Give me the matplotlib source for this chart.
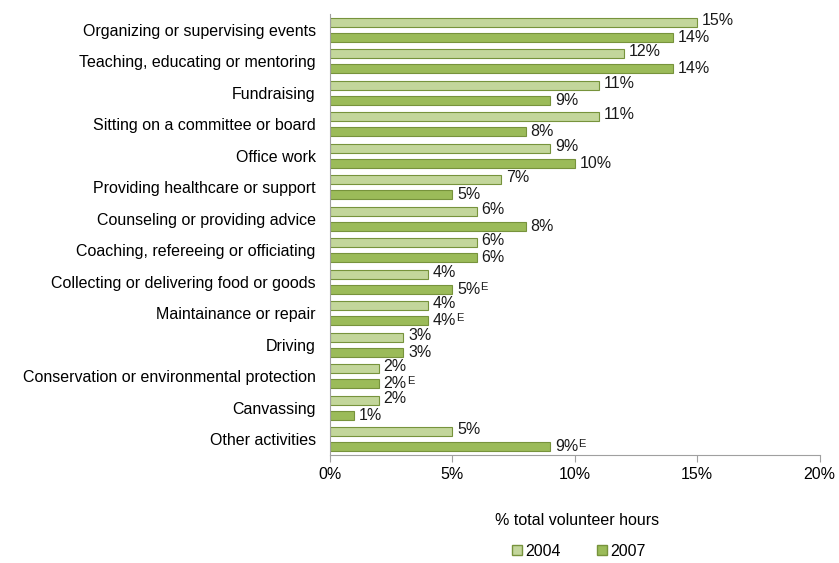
import numpy as np
import matplotlib
matplotlib.use('Agg')
import matplotlib.pyplot as plt
from matplotlib.patches import Patch

plt.rcParams['font.family'] = ['Liberation Sans', 'DejaVu Sans']

categories = ['Organizing or supervising events', 'Teaching, educating or mentoring',
              'Fundraising', 'Sitting on a committee or board', 'Office work',
              'Providing healthcare or support', 'Counseling or providing advice',
              'Coaching, refereeing or officiating', 'Collecting or delivering food or goods',
              'Maintainance or repair', 'Driving', 'Conservation or environmental protection',
              'Canvassing', 'Other activities']
vals_2004 = [15, 12, 11, 11, 9, 7, 6, 6, 4, 4, 3, 2, 2, 5]
vals_2007 = [14, 14, 9, 8, 10, 5, 8, 6, 5, 4, 3, 2, 1, 9]
flag_2007 = ['', '', '', '', '', '', '', '', 'E', 'E', '', 'E', '', 'E']

light = '#C3D69B'
dark = '#9BBB59'
edge = '#77933C'
fs = 11.5

fig = plt.figure(figsize=(8.39, 5.63), dpi=100)
ax = fig.add_axes([0.393, 0.192, 0.584, 0.783])

y = np.arange(len(categories))
h = 0.29
off = 0.24
ax.barh(y - off, vals_2004, height=h, color=light, edgecolor=edge, linewidth=0.8)
ax.barh(y + off, vals_2007, height=h, color=dark, edgecolor=edge, linewidth=0.8)

flag_texts = []
for i in range(len(categories)):
    ax.text(vals_2004[i] + 0.2, y[i] - off - 0.06, '%d%%' % vals_2004[i],
            va='center', ha='left', fontsize=fs, color='#1a1a1a')
    t = ax.text(vals_2007[i] + 0.2, y[i] + off, '%d%%' % vals_2007[i],
                va='center', ha='left', fontsize=fs, color='#1a1a1a')
    if flag_2007[i]:
        flag_texts.append((t, flag_2007[i]))

ax.set_ylim(len(categories) - 0.5, -0.5)
ax.set_xlim(0, 20)
ax.set_xticks([0, 5, 10, 15, 20])
ax.set_xticklabels(['0%', '5%', '10%', '15%', '20%'], fontsize=fs)
ax.set_yticks(y)
ax.set_yticklabels(categories, fontsize=fs)
ax.tick_params(axis='y', length=0, pad=10)
ax.tick_params(axis='x', length=5, color='#A0A0A0', pad=4)

for s in ['top', 'right']:
    ax.spines[s].set_visible(False)
for s in ['left', 'bottom']:
    ax.spines[s].set_color('#A0A0A0')

# superscript E placed right after the value labels
fig.canvas.draw()
inv = ax.transData.inverted()
for t, f in flag_texts:
    bb = t.get_window_extent()
    x1, y1 = inv.transform((bb.x1, bb.y1))
    ax.text(x1, y1, f, ha='left', va='top', fontsize=8, color='#1a1a1a')

fig.text(0.688, 0.076, '% total volunteer hours', ha='center', va='center', fontsize=fs)

handles = [Patch(facecolor=light, edgecolor=edge, label='2004'),
           Patch(facecolor=dark, edgecolor=edge, label='2007')]
fig.legend(handles=handles, loc='center', bbox_to_anchor=(0.69, 0.021), ncol=2,
           frameon=False, fontsize=fs, handlelength=0.6, handleheight=0.6,
           handletextpad=0.2, columnspacing=2.3)

fig.savefig('out.png', dpi=100)
